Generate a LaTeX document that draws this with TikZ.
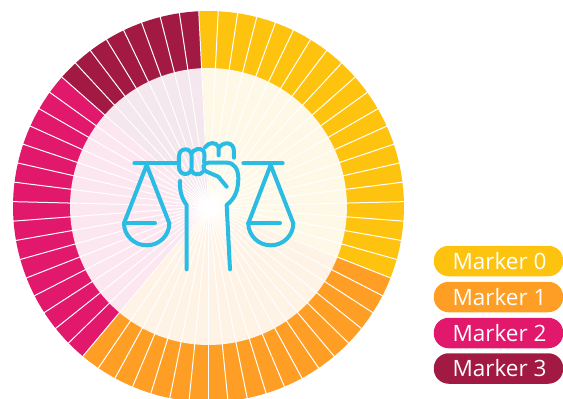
\documentclass[tikz,border=0pt]{standalone}
\usepackage{fontspec}
\setmainfont{Open Sans}
\definecolor{cyel}{HTML}{FDC30F}
\definecolor{corg}{HTML}{FE9E25}
\definecolor{cmag}{HTML}{E1186B}
\definecolor{cdrk}{HTML}{A21A44}
\definecolor{pyel}{HTML}{FEF9E6}
\definecolor{porg}{HTML}{FFF3E6}
\definecolor{pmag}{HTML}{FCE7F1}
\definecolor{pdrk}{HTML}{F4E7ED}
\definecolor{cicon}{HTML}{2BBCE4}
\tikzset{
  iconline/.style={draw=cicon,line width=4pt,line cap=round,line join=round},
  pill/.style={rounded corners=15pt,minimum width=129.5pt,minimum height=30.5pt,inner sep=0pt,text=white,font=\fontsize{22.5pt}{24pt}\selectfont,anchor=center}
}
\begin{document}
\begin{tikzpicture}[x=1pt,y=-1pt]
\useasboundingbox (0,0) rectangle (563,399);
\clip (0,0) rectangle (563,399);
\def\cx{208.5}\def\cy{206.5}\def\Ro{195.5}\def\Ri{138.5}
\def\st{5.7142857}
\foreach \a/\b/\c/\p in {-2.857/111.43/cyel/pyel,111.43/220/corg/porg,220/311.43/cmag/pmag,311.43/357.143/cdrk/pdrk}{
  \fill[\c] (\cx,\cy) -- plot[domain=\a:\b,samples=40,variable=\t] ({\cx+\Ro*sin(\t)},{\cy-\Ro*cos(\t)}) -- cycle;
  \fill[\p] (\cx,\cy) -- plot[domain=\a:\b,samples=40,variable=\t] ({\cx+\Ri*sin(\t)},{\cy-\Ri*cos(\t)}) -- cycle;
}
\foreach \i in {0,...,62}{
  \pgfmathsetmacro{\t}{-2.857+\i*\st}
  \draw[white,line width=1pt] (\cx,\cy) -- ({\cx+197*sin(\t)},{\cy-197*cos(\t)});
}
\begin{scope}[shift={(100,110)},x=0.3333pt,y=-0.3333pt,every path/.style={iconline}]
  \draw (103,160) -- (235,160);
  \draw (430,160) -- (548,160);
  % left pan
  \draw (72,340) -- (140,165) -- (208,340);
  \draw (72,340) -- (165,340);
  \draw (72,340) arc[start angle=180,end angle=360,x radius=68,y radius=-66];
  % right pan
  \draw (445,340) -- (512,165) -- (580,340);
  \draw (445,340) -- (540,340);
  \draw (445,340) arc[start angle=180,end angle=360,x radius=67.5,y radius=-66];
  % arm
  \draw (240,213) .. controls (238,245) and (248,270) .. (260,285) -- (260,478);
  \draw (390,478) -- (380,285) .. controls (402,268) and (415,245) .. (415,205) .. controls (415,178) and (403,158) .. (380,158) -- (325,158) .. controls (308,158) and (305,178) .. (320,185) -- (355,200) -- (380,230);
  % fingers
  \draw (257,118) .. controls (243,118) and (237,128) .. (237,140) -- (237,170) .. controls (237,184) and (245,192) .. (256,192) .. controls (268,192) and (275,184) .. (275,170) -- (275,140) .. controls (275,128) and (268,118) .. (257,118);
  \draw (275,130) .. controls (280,118) and (300,112) .. (310,122) .. controls (316,130) and (313,145) .. (312,156);
  \draw (275,182) .. controls (280,196) and (300,196) .. (308,186);
  \draw (315,112) .. controls (325,96) and (350,94) .. (356,112) -- (356,136);
  \draw (358,112) .. controls (368,96) and (402,92) .. (402,125) -- (402,143);
\end{scope}
\node[pill,fill=cyel] (m0) at (498.5,261) {\hspace*{2pt}Marker 0};
\node[pill,fill=corg] (m1) at (498.5,297) {\hspace*{2pt}Marker 1};
\node[pill,fill=cmag] (m2) at (498.5,333) {\hspace*{2pt}Marker 2};
\node[pill,fill=cdrk] (m3) at (498.5,368.5) {\hspace*{2pt}Marker 3};
\end{tikzpicture}
\end{document}
